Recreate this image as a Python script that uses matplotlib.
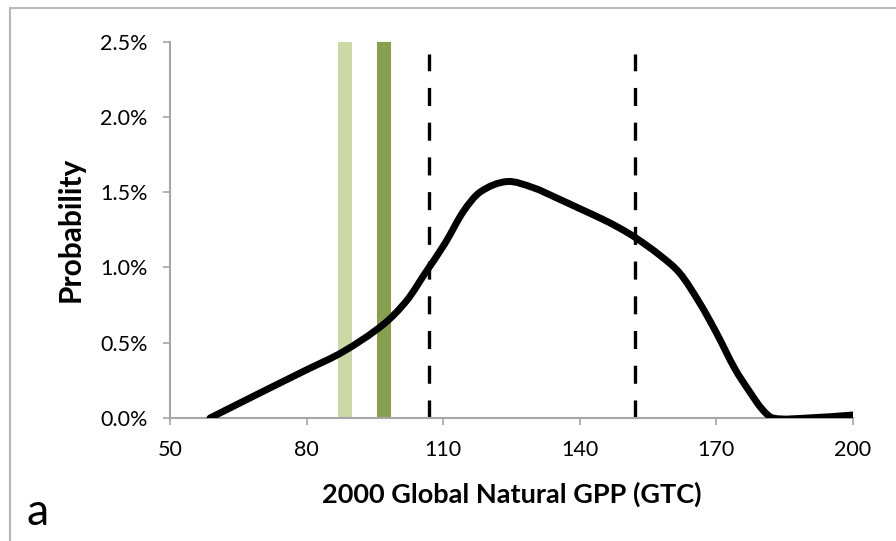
import matplotlib
matplotlib.use("Agg")
import matplotlib.pyplot as plt
import numpy as np
from matplotlib.patches import Rectangle, PathPatch
from matplotlib.path import Path
from matplotlib.ticker import FuncFormatter

# Data
gpp = [58.8, 70, 80, 88, 96.8, 102, 106, 110.4, 114.4, 118.1, 124, 129.7,
       135, 140, 145, 148.8, 152.1, 157.6, 162, 166.4, 170.1, 174, 177.4,
       180, 182.4, 190, 200]
prob = [0.00, 0.17, 0.32, 0.44, 0.62, 0.78, 0.96, 1.16, 1.37, 1.50, 1.57,
        1.53, 1.46, 1.39, 1.32, 1.26, 1.20, 1.08, 0.96, 0.76, 0.56, 0.33,
        0.17, 0.06, 0.00, 0.00, 0.02]
bar_x = [88.4, 97.0]
bar_h = [2.5, 2.5]
bar_colors = ["#cbdaa5", "#87a04b"]
dash_x = [106.9, 152.1]
dash_top = 2.42
xticks = [50, 80, 110, 140, 170, 200]
yticks = [0.0, 0.5, 1.0, 1.5, 2.0, 2.5]

plt.rcParams['font.family'] = ['Lato', 'DejaVu Sans']
plt.rcParams['lines.scale_dashes'] = False


def smooth_path(xs, ys):
    """Smoothed line (like Excel's): cubic Hermite Bezier segments through the points."""
    x = np.asarray(xs, float)
    y = np.asarray(ys, float)
    n = len(x)
    m = np.empty(n)
    m[0] = (y[1] - y[0]) / (x[1] - x[0])
    m[-1] = (y[-1] - y[-2]) / (x[-1] - x[-2])
    m[1:-1] = (y[2:] - y[:-2]) / (x[2:] - x[:-2])
    verts = [(x[0], y[0])]
    codes = [Path.MOVETO]
    for i in range(n - 1):
        h = x[i + 1] - x[i]
        verts += [(x[i] + h / 3, y[i] + m[i] * h / 3),
                  (x[i + 1] - h / 3, y[i + 1] - m[i + 1] * h / 3),
                  (x[i + 1], y[i + 1])]
        codes += [Path.CURVE4] * 3
    return Path(verts, codes)


fig = plt.figure(figsize=(8.96, 5.41), dpi=100)
fig.patches.append(Rectangle((10/896, -0.1), 1.2, (541-8)/541 + 0.1,
                             transform=fig.transFigure, fill=False,
                             edgecolor="#b8b8b8", linewidth=1.5))
ax = fig.add_axes([170/896, 1-418/541, (853-170)/896, (418-41.5)/541])

ax.bar(bar_x, bar_h, width=3.2, color=bar_colors, zorder=1)
ax.vlines(dash_x, 0, dash_top, colors="black", linewidth=2.4,
          linestyles=(0, (13, 12)), zorder=2)
ax.add_patch(PathPatch(smooth_path(gpp, prob), fill=False, edgecolor="black",
                       linewidth=5, capstyle="round", joinstyle="round", zorder=3))

ax.set_xlim(50, 200)
ax.set_ylim(0, 2.5)
ax.set_xticks(xticks)
ax.set_yticks(yticks)
ax.yaxis.set_major_formatter(FuncFormatter(lambda v, p: f"{v:.1f}%"))
for s in ["top", "right"]:
    ax.spines[s].set_visible(False)
for s in ["left", "bottom"]:
    ax.spines[s].set_color("#a6a6a6")
    ax.spines[s].set_linewidth(1.5)
ax.tick_params(axis="both", colors="#a6a6a6", length=5, width=1.2,
               labelcolor="black", labelsize=15.5)
ax.tick_params(axis="y", pad=11)
ax.tick_params(axis="x", pad=11)
ax.set_xlabel("2000 Global Natural GPP (GTC)", fontsize=19.5, fontweight="bold",
              va="center")
ax.set_ylabel("Probability", fontsize=21.5, fontweight="bold", va="center")
ax.xaxis.set_label_coords(0.5, (418-494)/376.5)
ax.yaxis.set_label_coords((71-170)/683, 0.5)
fig.text(26/896, 1-525/541, "a", fontsize=32, ha="left", va="baseline")

fig.savefig("out.png", dpi=100)
